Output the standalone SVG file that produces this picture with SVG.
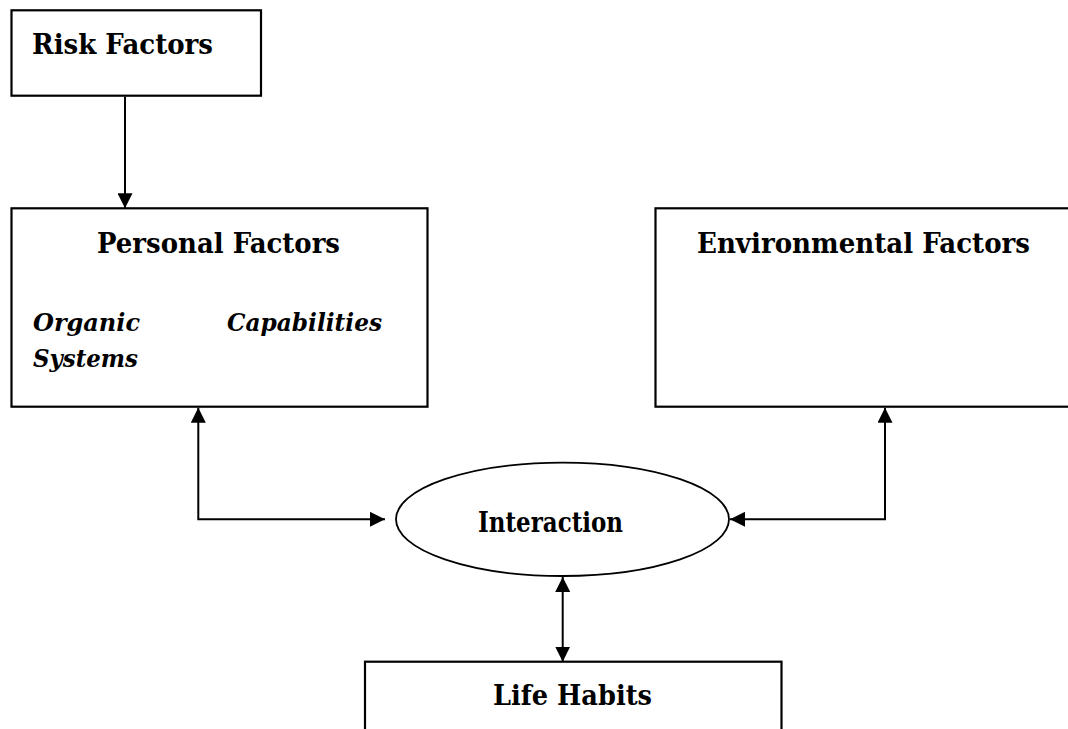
<svg xmlns="http://www.w3.org/2000/svg" width="1068" height="729" viewBox="0 0 1068 729">
<style>
.box{fill:#fff;stroke:#000;stroke-width:2.2}
.ell{fill:#fff;stroke:#000;stroke-width:1.8}
.t{font-family:"DejaVu Serif","Liberation Serif",serif;font-weight:bold;font-size:27px;fill:#000}
.i{font-family:"DejaVu Serif","Liberation Serif",serif;font-weight:bold;font-style:italic;font-size:24px;fill:#000}
.c{fill:none;stroke:#000;stroke-width:2}
</style>
<defs>
<marker id="ah" markerUnits="userSpaceOnUse" markerWidth="15" markerHeight="15" refX="15" refY="7.5" orient="auto-start-reverse" viewBox="0 0 15 15">
<path d="M0,0 L15,7.5 L0,15 z" fill="#000"/>
</marker>
</defs>
<rect width="1068" height="729" fill="#fff"/>
<g id="risk">
<rect class="box" x="11.5" y="10.3" width="249.5" height="85.4"/>
<text class="t" x="32" y="54" textLength="181" lengthAdjust="spacingAndGlyphs">Risk Factors</text>
</g>
<g id="personal">
<rect class="box" x="11.5" y="208.3" width="416" height="198.4"/>
<text class="t" x="97" y="253" textLength="243" lengthAdjust="spacingAndGlyphs">Personal Factors</text>
<text class="i" x="33" y="331" textLength="107" lengthAdjust="spacingAndGlyphs">Organic</text>
<text class="i" x="227" y="331" textLength="155" lengthAdjust="spacingAndGlyphs">Capabilities</text>
<text class="i" x="33" y="367" textLength="105" lengthAdjust="spacingAndGlyphs">Systems</text>
</g>
<g id="environmental">
<rect class="box" x="655.5" y="208.3" width="416" height="198.4"/>
<text class="t" x="697" y="253" textLength="333" lengthAdjust="spacingAndGlyphs">Environmental Factors</text>
</g>
<g id="interaction">
<ellipse class="ell" cx="562.5" cy="519.3" rx="166.5" ry="56.7"/>
<text class="t" x="478" y="532" textLength="145" lengthAdjust="spacingAndGlyphs">Interaction</text>
</g>
<g id="lifehabits">
<rect class="box" x="365" y="661.7" width="416.5" height="80"/>
<text class="t" x="493" y="705" textLength="159" lengthAdjust="spacingAndGlyphs">Life Habits</text>
</g>
<g id="connectors">
<path class="c" d="M125,96.7 V208.3" marker-end="url(#ah)"/>
<path class="c" d="M198.3,407.7 V519.3 H385" marker-start="url(#ah)" marker-end="url(#ah)"/>
<path class="c" d="M885,407.7 V519.3 H730" marker-start="url(#ah)" marker-end="url(#ah)"/>
<path class="c" d="M562.7,577 V661.7" marker-start="url(#ah)" marker-end="url(#ah)"/>
</g>
</svg>
